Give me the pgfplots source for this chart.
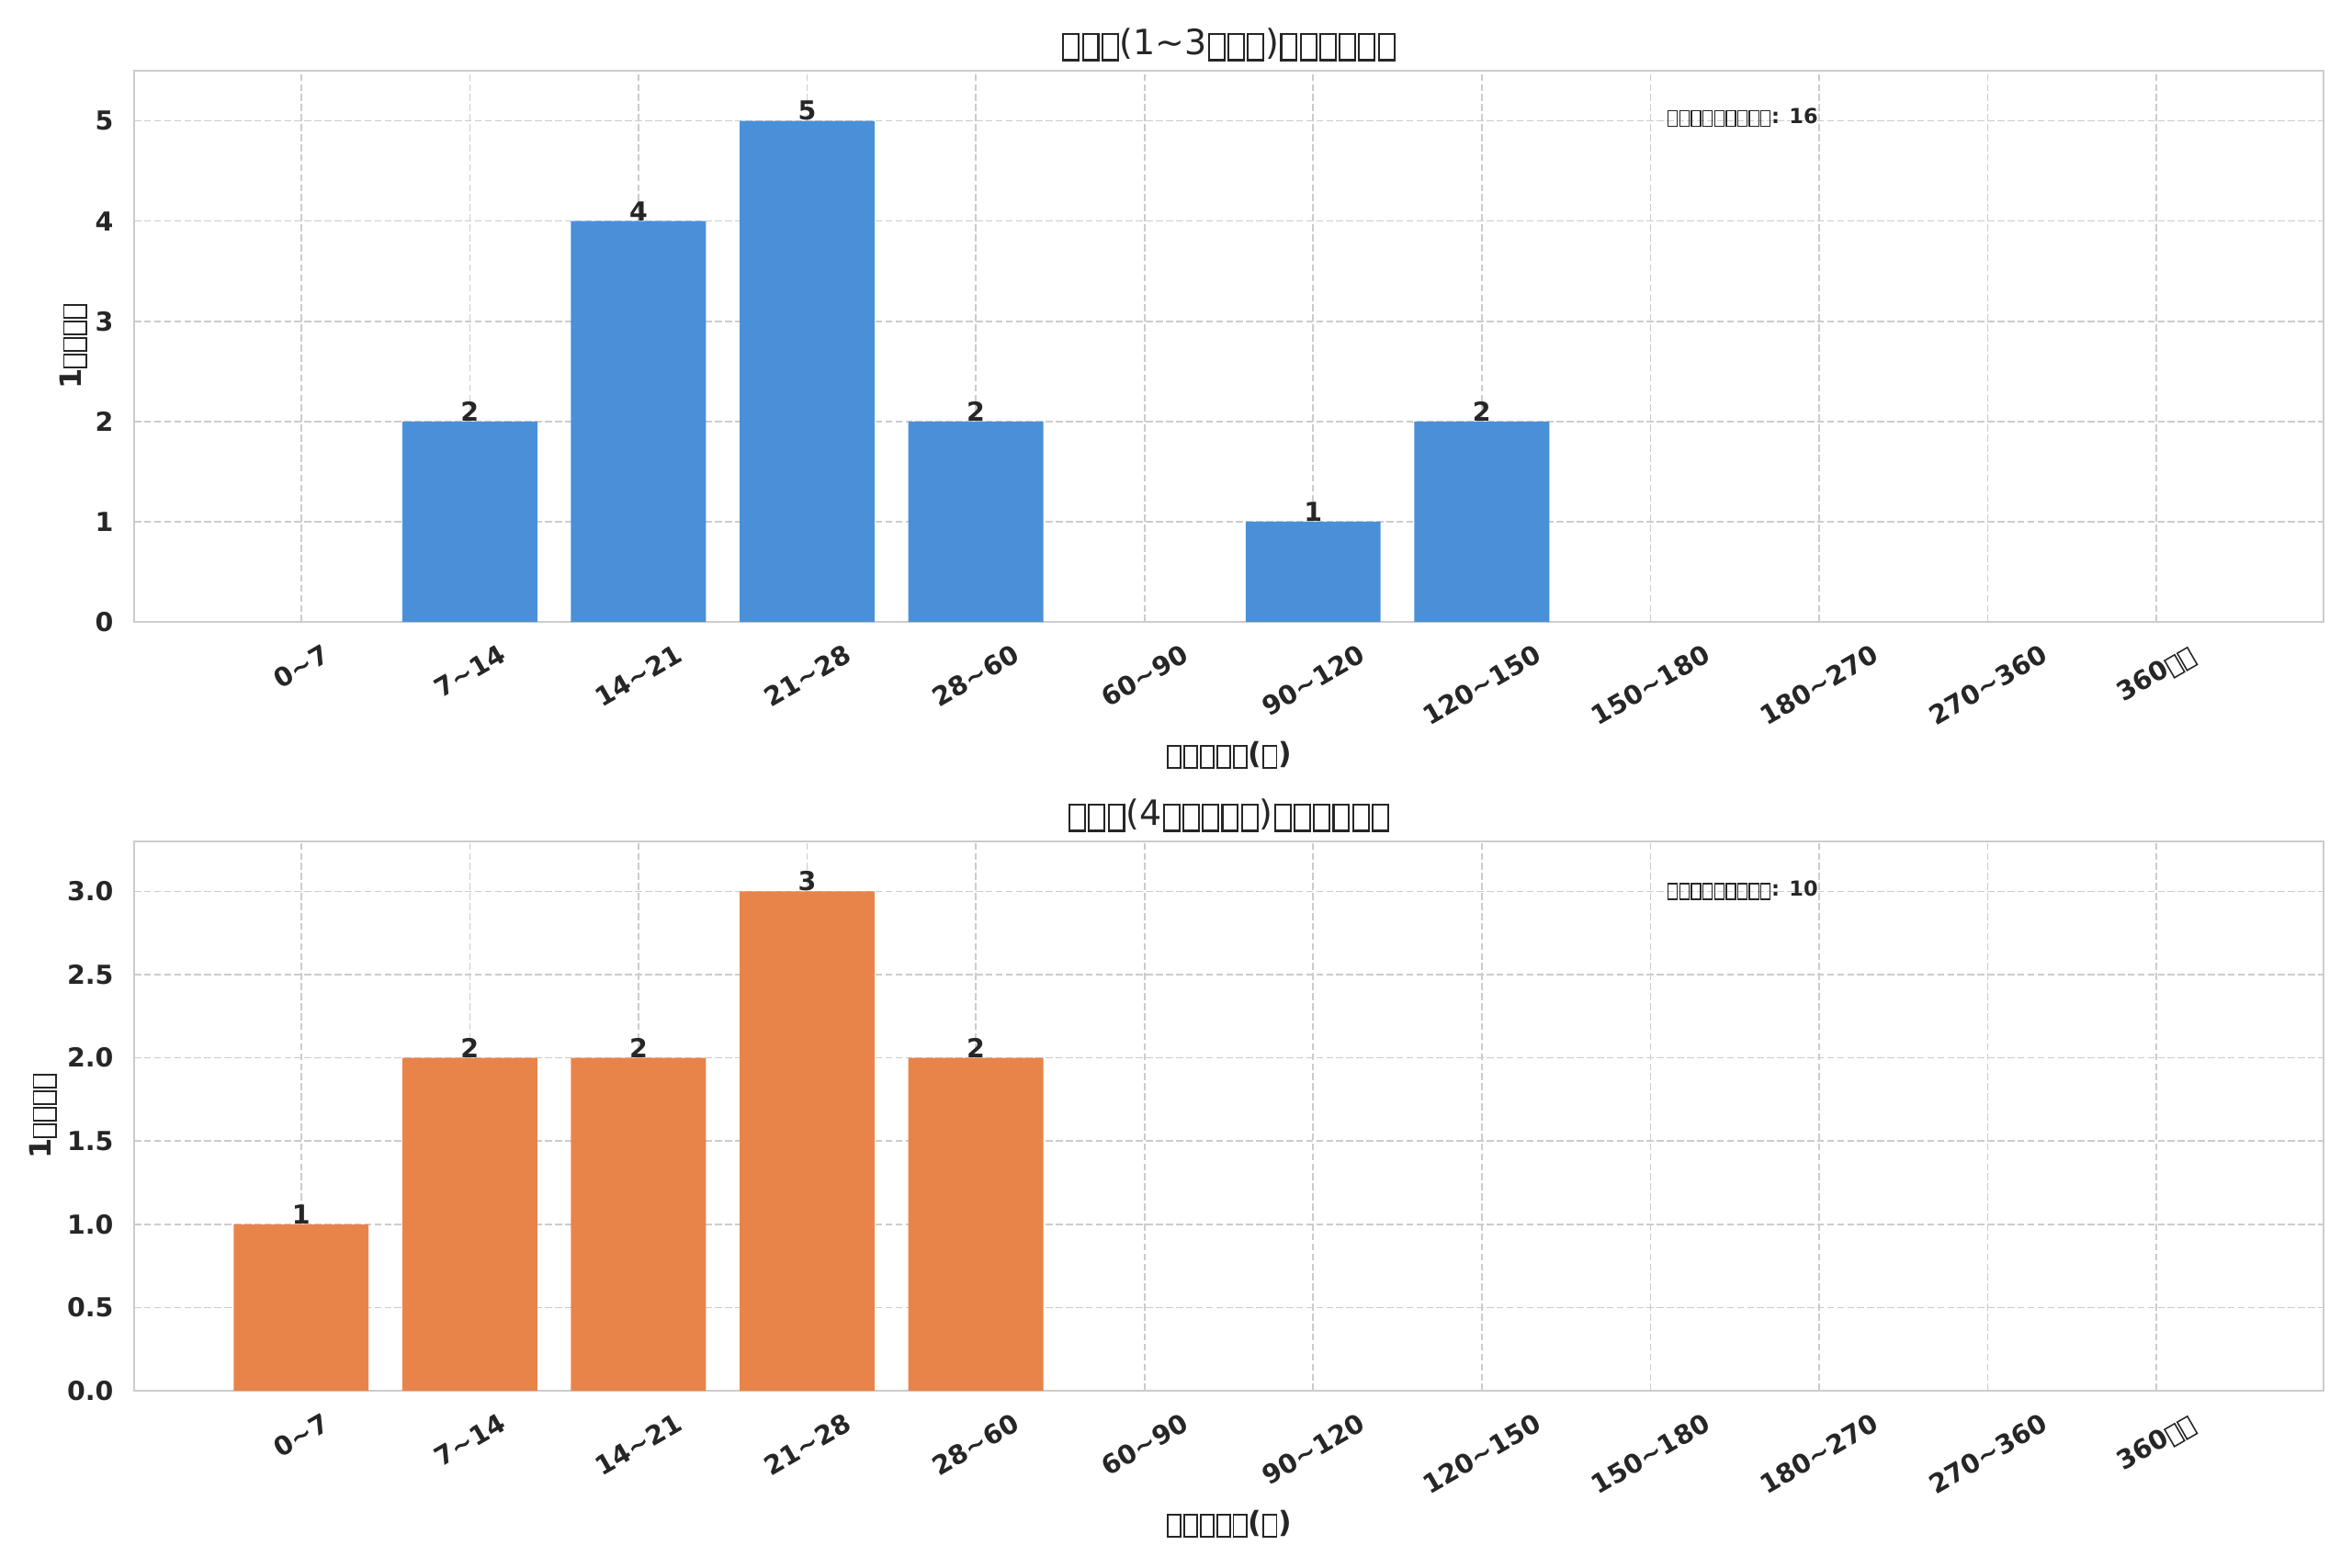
\documentclass[border=0pt]{standalone}
\usepackage{fontspec}
\setmainfont{DejaVu Sans}
\usepackage{pgfplots}
\pgfplotsset{compat=1.18}
\usepackage{graphicx}
\newlength\px
\setlength\px{0.421875pt}
\newcommand\fs[1]{\fontsize{#1pt}{#1pt}\selectfont}
\newcommand\tf{\kern0.03em\raisebox{-0.13em}{\setlength\fboxsep{0pt}\setlength\fboxrule{0.055em}\fbox{\rule{0pt}{0.70em}\rule{0.39em}{0pt}}}\kern0.03em}
\newcommand\tl{\char"007E\relax}
\newcommand\rl[1]{\rotatebox{30}{#1}}
\definecolor{barblue}{HTML}{4A90D9}
\definecolor{barorange}{HTML}{E8844A}
\definecolor{gridc}{HTML}{CCCCCC}
\definecolor{txt}{HTML}{262626}
\pgfplotsset{every axis title shift=0pt}
\pgfplotsset{mystyle/.style={
  scale only axis, width=2383\px,
  xmin=-0.99, xmax=11.99, ymin=0,
  xtick={0,...,11},
  xticklabels={\rl{0\tl7},\rl{7\tl14},\rl{14\tl21},\rl{21\tl28},\rl{28\tl60},\rl{60\tl90},\rl{90\tl120},\rl{120\tl150},\rl{150\tl180},\rl{180\tl270},\rl{270\tl360},\rl{360\tf\tf}},
  grid=major,
  major grid style={draw=gridc, line width=0.7pt, dash pattern=on 3.2pt off 1.4pt},
  axis line style={draw=gridc, line width=0.8pt},
  major tick length=0pt,
  /pgf/number format/assume math mode=true,
  tick label style={font=\fs{12}\bfseries, text=txt},
  x tick label style={anchor=north, inner sep=0pt, yshift=-23\px},
  y tick label style={anchor=east, inner sep=0pt, xshift=-22\px},
  title style={at={(axis description cs:0.5,1)}, anchor=south, inner sep=0pt, yshift=10\px, font=\fs{16}, text=txt},
  xlabel style={at={(axis description cs:0.5,0)}, anchor=center, inner sep=0pt, yshift=-145\px, font=\fs{13.5}\bfseries, text=txt},
  xlabel={\tf\tf\tf\tf\tf(\tf)},
  ylabel={1\tf\tf\tf\tf},
  ybar, bar width=0.8, bar shift=0pt,
  nodes near coords,
  nodes near coords style={font=\fs{12}\bfseries, text=txt, anchor=south, inner sep=0pt},
  clip=false,
}}
\begin{document}
\begin{tikzpicture}
\path[use as bounding box] (0,0) rectangle (2560\px,-1707\px);
\begin{axis}[mystyle, at={(146\px,-677\px)}, anchor=south west, height=600\px,
  ymax=5.5, ytick={0,1,2,3,4,5},
  ylabel style={at={(axis description cs:-0.0214,0.5)}, anchor=south, inner sep=0pt, font=\fs{13.5}\bfseries, text=txt},
  title={\tf\tf\tf(1\tl3\tf\tf\tf)\tf\tf\tf\tf\tf\tf}]
\addplot[fill=barblue, draw=none] coordinates {(1,2) (2,4) (3,5) (4,2) (6,1) (7,2)};
\node[anchor=west, inner sep=0pt, font=\fs{9.5}\bfseries, text=txt] at (axis description cs:0.7,0.915) {\tf\tf\tf\tf\tf\tf\tf\tf\tf: 16};
\end{axis}
\begin{axis}[mystyle, at={(146\px,-1514\px)}, anchor=south west, height=598\px,
  ymax=3.3, ytick={0,0.5,1,1.5,2,2.5,3},
  yticklabel style={/pgf/number format/.cd, fixed, fixed zerofill, precision=1},
  ylabel style={at={(axis description cs:-0.03525,0.5)}, anchor=south, inner sep=0pt, font=\fs{13.5}\bfseries, text=txt},
  title={\tf\tf\tf(4\tf\tf\tf\tf\tf)\tf\tf\tf\tf\tf\tf}]
\addplot[fill=barorange, draw=none] coordinates {(0,1) (1,2) (2,2) (3,3) (4,2)};
\node[anchor=west, inner sep=0pt, font=\fs{9.5}\bfseries, text=txt] at (axis description cs:0.7,0.911) {\tf\tf\tf\tf\tf\tf\tf\tf\tf: 10};
\end{axis}
\end{tikzpicture}
\end{document}
